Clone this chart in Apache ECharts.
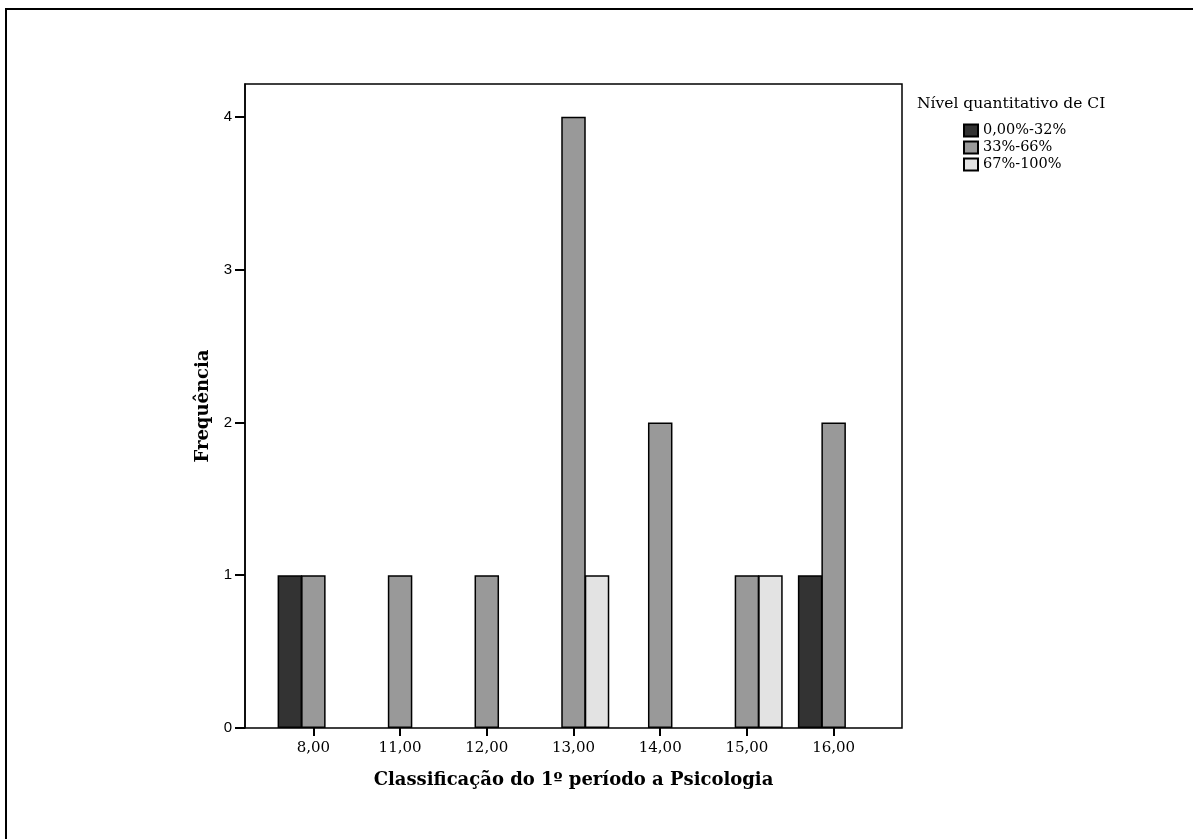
<!DOCTYPE html>
<html>
<head>
<meta charset="utf-8">
<script src="https://cdn.jsdelivr.net/npm/echarts@6/dist/echarts.min.js"></script>
<style>
html,body{margin:0;padding:0;background:#fff;}
#chart{width:1193px;height:839px;}
</style>
</head>
<body>
<div id="chart"></div>
<script>
var categories = ['8,00','11,00','12,00','13,00','14,00','15,00','16,00'];
var seriesNames = ['0,00%-32%','33%-66%','67%-100%'];
var low  = [1,0,0,0,0,0,1];
var mid  = [1,1,1,4,2,1,2];
var high = [0,0,0,1,0,1,0];
var yTicks = [0,1,2,3,4];
var yMax = 4.215;

var colors = ['#333333','#999999','#e3e3e3'];
function nz(a){ return a.map(function(v){ return v === 0 ? '-' : v; }); }

var serif = 'DejaVu Serif';
var chart = echarts.init(document.getElementById('chart'), null, {renderer:'canvas'});
var dataSets = [low, mid, high];
var series = dataSets.map(function(d, i){
  return {
    name: seriesNames[i],
    type: 'bar',
    xAxisIndex: 0, yAxisIndex: 0,
    data: nz(d),
    barWidth: 24.5,
    barGap: '-4%',
    itemStyle: {color: colors[i], borderColor: '#000', borderWidth: 1.5},
    emphasis: {disabled: true},
    animation: false
  };
});

chart.setOption({
  animation: false,
  backgroundColor: '#fff',
  title: {
    text: 'Nível quantitativo de CI',
    left: 917, top: 96, padding: 0,
    textStyle: {fontFamily: serif, fontSize: 15.5, fontWeight: 'normal', color: '#000'}
  },
  legend: {
    orient: 'vertical',
    left: 963, top: 123,
    padding: 0,
    itemWidth: 14, itemHeight: 12, itemGap: 2,
    icon: 'rect',
    textStyle: {fontFamily: serif, fontSize: 14.5, color: '#000', padding: [0,0,0,0]},
    data: seriesNames
  },
  grid: [
    {left: 270, width: 607, top: 84, bottom: 111, containLabel: false},
    {left: 245, width: 657, top: 84, bottom: 111, show: true, borderColor: '#000', borderWidth: 1.5, backgroundColor: 'transparent', z: 3}
  ],
  xAxis: [
    {
      type: 'category', gridIndex: 0, data: categories,
      axisLine: {show: false},
      axisTick: {show: true, alignWithLabel: true, length: 8, lineStyle: {color: '#000', width: 2}},
      axisLabel: {fontFamily: serif, fontSize: 15, color: '#000', margin: 13},
      name: 'Classificação do 1º período a Psicologia',
      nameLocation: 'middle', nameGap: 43,
      nameTextStyle: {fontFamily: serif, fontSize: 18, fontWeight: 'bold', color: '#000'}
    },
    {type: 'value', gridIndex: 1, min: 0, max: 1, show: false}
  ],
  yAxis: [
    {type: 'value', gridIndex: 0, min: 0, max: yMax, interval: 1, show: false, splitLine: {show: false}},
    {
      type: 'value', gridIndex: 1, min: 0, max: yMax, interval: 1,
      splitLine: {show: false},
      axisLine: {show: true, lineStyle: {color: '#000', width: 1.5}},
      axisTick: {show: true, length: 10, customValues: yTicks, lineStyle: {color: '#000', width: 2}},
      axisLabel: {fontFamily: 'Liberation Sans', fontSize: 15, color: '#000', margin: 13, customValues: yTicks},
      name: 'Frequência', nameLocation: 'middle', nameGap: 32,
      nameTextStyle: {fontFamily: serif, fontSize: 18, fontWeight: 'bold', color: '#000'}
    }
  ],
  graphic: [
    {type: 'line', shape: {x1: 5, y1: 9, x2: 1193, y2: 9}, style: {stroke: '#000', lineWidth: 2}, silent: true},
    {type: 'line', shape: {x1: 6, y1: 8, x2: 6, y2: 839}, style: {stroke: '#000', lineWidth: 2}, silent: true}
  ],
  series: series
});
</script>
</body>
</html>
